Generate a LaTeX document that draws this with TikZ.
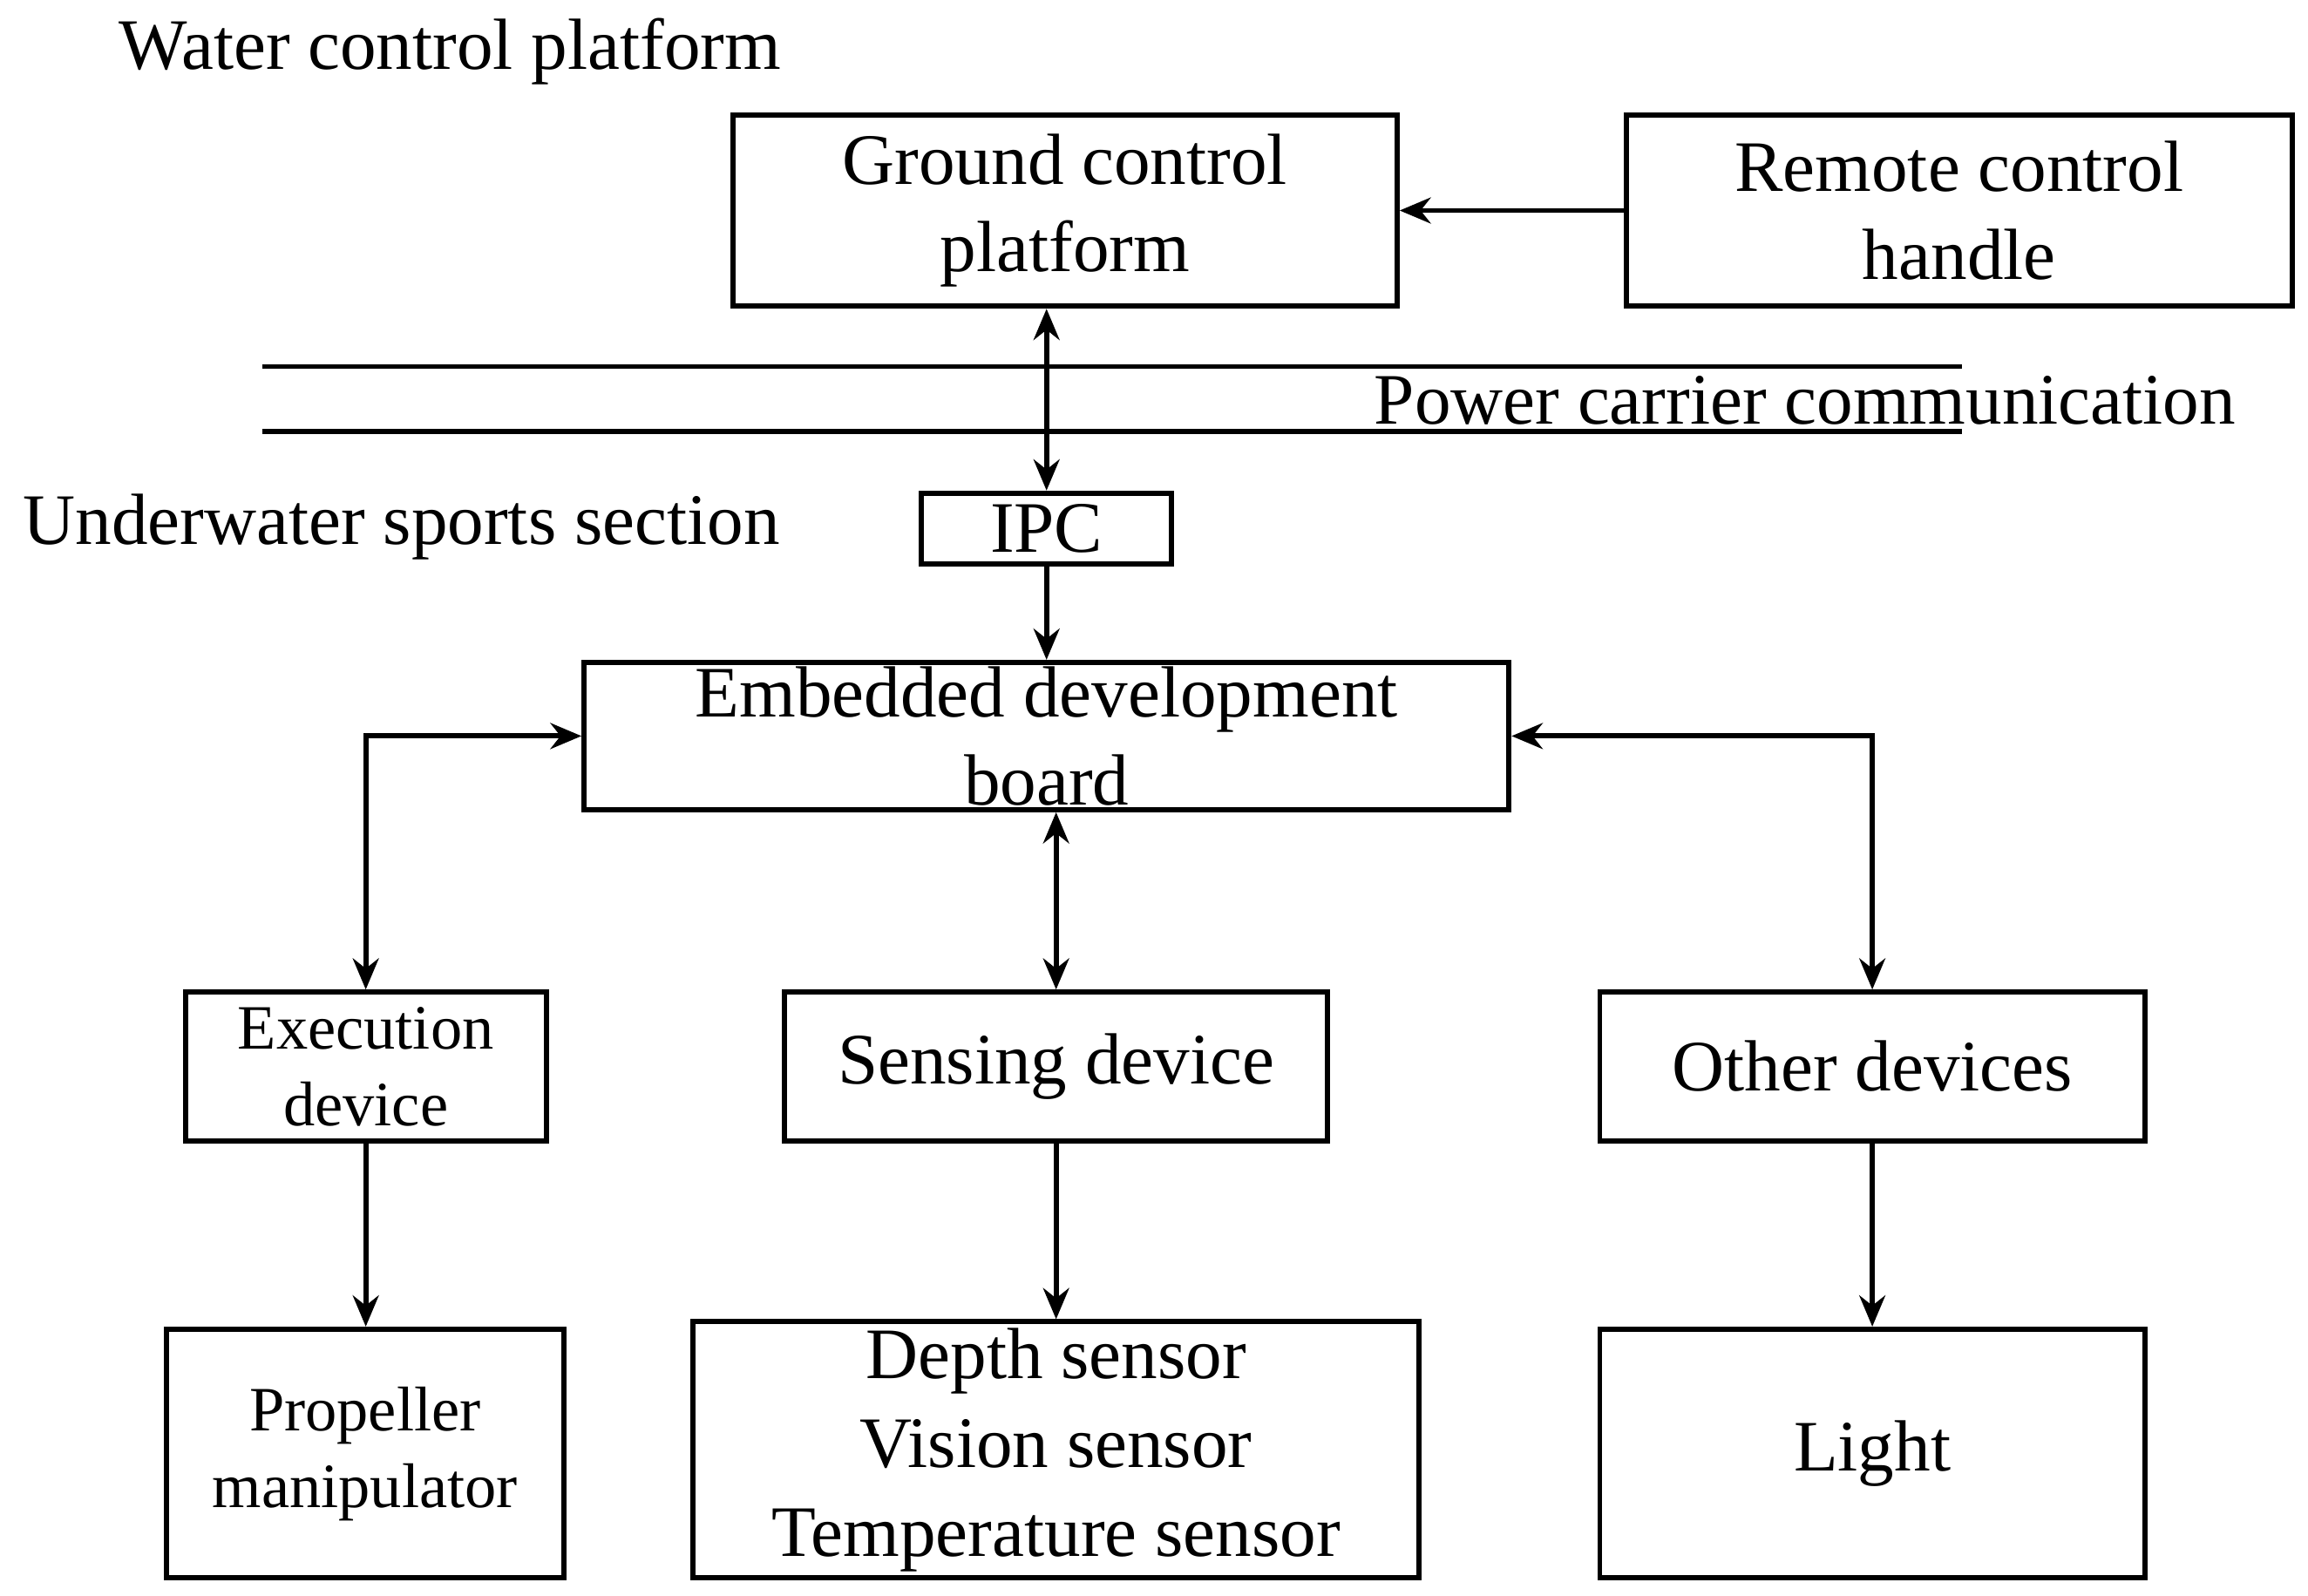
\documentclass[tikz,border=0pt]{standalone}
\usepackage{fontspec}
\setmainfont{Liberation Serif}
\usetikzlibrary{arrows.meta}
\begin{document}
\begin{tikzpicture}[x=0.01cm,y=-0.01cm,
  box/.style={draw,line width=1pt,inner sep=0pt,align=center,font=\fontsize{14}{17}\selectfont},
  sbox/.style={box,font=\fontsize{12.2}{14.8}\selectfont},
  lbl/.style={inner sep=0pt,font=\fontsize{14}{17}\selectfont},
  arr/.style={line width=1pt,-{Stealth[length=6pt,width=5pt]}},
  darr/.style={line width=1pt,{Stealth[length=6pt,width=5pt]}-{Stealth[length=6pt,width=5pt]}}]
\useasboundingbox (0,0) rectangle (1568,1084);
\node[box,minimum width=4.51cm,minimum height=1.30cm] (gnd) at (723.5,143) {Ground control\\platform};
\node[box,minimum width=4.52cm,minimum height=1.30cm] (rem) at (1331,143) {Remote control\\handle};
\node[box,minimum width=1.70cm,minimum height=0.48cm] (ipc) at (711,359) {IPC};
\node[box,minimum width=6.28cm,minimum height=1.00cm] (emb) at (711,500) {Embedded development\\board};
\node[sbox,minimum width=2.45cm,minimum height=1.01cm] (exe) at (248.5,724.5) {Execution\\device};
\node[box,minimum width=3.69cm,minimum height=1.01cm] (sen) at (717.5,724.5) {Sensing device};
\node[box,minimum width=3.70cm,minimum height=1.01cm] (oth) at (1272,724.5) {Other devices};
\node[sbox,minimum width=2.70cm,minimum height=1.69cm] (pro) at (248,987.5) {Propeller\\manipulator};
\node[box,minimum width=4.93cm,minimum height=1.74cm,font=\fontsize{14}{17.2}\selectfont] (dep) at (717.5,985) {Depth sensor\\Vision sensor\\Temperature sensor};
\node[box,minimum width=3.70cm,minimum height=1.69cm] (lig) at (1272,987.5) {Light};
\node[lbl,anchor=west] (wcp) at (80,35) {Water control platform};
\node[lbl,anchor=west] (uss) at (15,358) {Underwater sports section};
\node[lbl,anchor=west] (pcc) at (933,272) {Power carrier communication};
\coordinate (l1a) at (178,249); \coordinate (l1b) at (1333,249);
\coordinate (l2a) at (178,293); \coordinate (l2b) at (1333,293);
\draw[line width=1pt] (l1a) -- (l1b);
\draw[line width=1pt] (l2a) -- (l2b);
\draw[arr] (rem.west) -- (gnd.east);
\draw[darr] (ipc.north |- gnd.south) -- (ipc.north);
\draw[arr] (ipc.south) -- (ipc.south |- emb.north);
\draw[darr] (emb.west) -| (exe.north);
\draw[darr] (emb.east) -| (oth.north);
\draw[darr] (sen.north |- emb.south) -- (sen.north);
\draw[arr] (exe.south) -- (exe.south |- pro.north);
\draw[arr] (sen.south) -- (dep.north);
\draw[arr] (oth.south) -- (lig.north);
\end{tikzpicture}
\end{document}
